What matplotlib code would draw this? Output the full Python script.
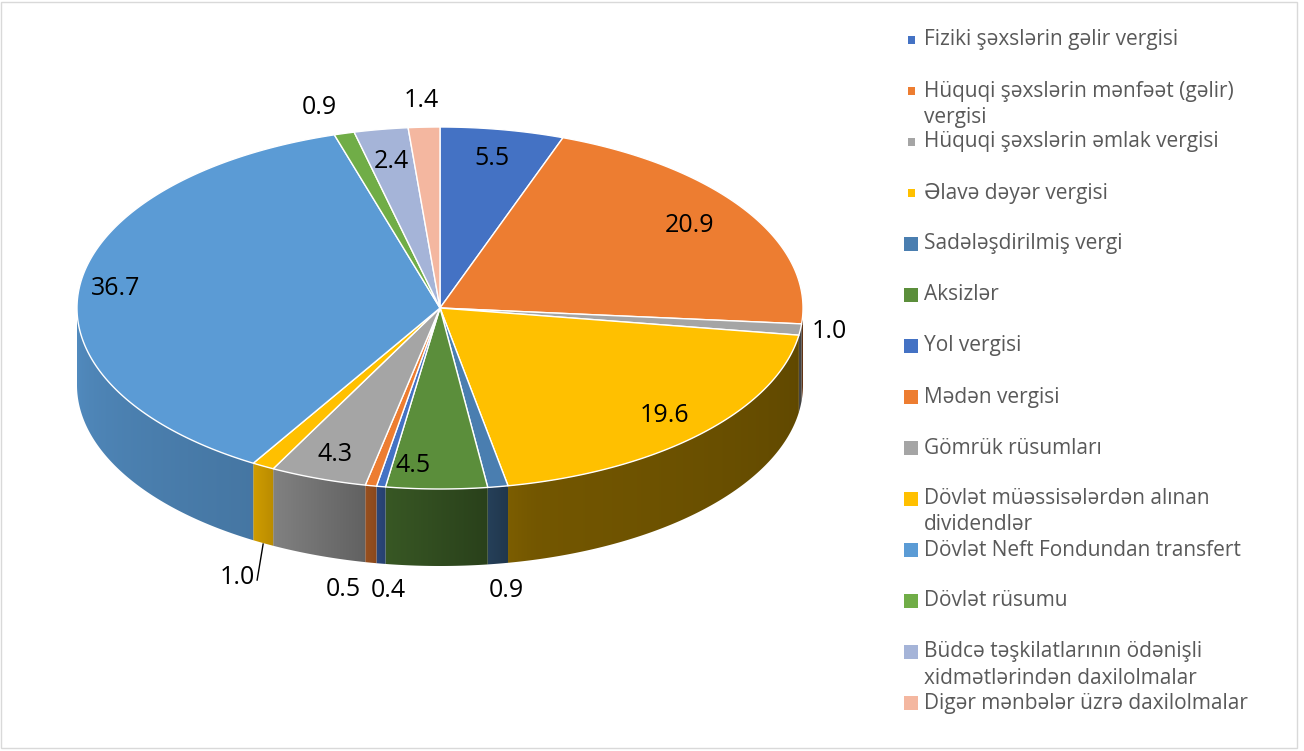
import numpy as np
import matplotlib.pyplot as plt
from matplotlib.patches import Polygon, Rectangle
from matplotlib.colors import to_rgb

plt.rcParams['font.family'] = ['Open Sans', 'DejaVu Sans']

# shares of budget revenue, %
categories = [
    "Fiziki şəxslərin gəlir vergisi",
    "Hüquqi şəxslərin mənfəət (gəlir)\nvergisi",
    "Hüquqi şəxslərin əmlak vergisi",
    "Əlavə dəyər vergisi",
    "Sadələşdirilmiş vergi",
    "Aksizlər",
    "Yol vergisi",
    "Mədən vergisi",
    "Gömrük rüsumları",
    "Dövlət müəssisələrdən alınan\ndividendlər",
    "Dövlət Neft Fondundan transfert",
    "Dövlət rüsumu",
    "Büdcə təşkilatlarının ödənişli\nxidmətlərindən daxilolmalar",
    "Digər mənbələr üzrə daxilolmalar",
]
values = [5.5, 20.9, 1.0, 19.6, 0.9, 4.5, 0.4, 0.5, 4.3, 1.0, 36.7, 0.9, 2.4, 1.4]
colors = ['#4472C4', '#ED7D31', '#A5A5A5', '#FFC000', '#4A7EB0', '#5B8E3B', '#4472C4',
          '#ED7D31', '#A5A5A5', '#FFC000', '#5B9BD5', '#70AD47', '#A5B4D8', '#F4B7A0']

# label placement: radius factor on ellipse, drop to bottom rim, pixel nudges
lab_r = [0.84, 0.85, 1.08, 0.86, 1.15, 0.87, 1.15, 1.15, 0.86, 1.0, 0.9, 1.15, 0.82, 1.15]
lab_drop = [0, 0, 0, 0, 1, 0, 1, 1, 0, 1, 0, 0, 0, 0]
lab_dx = [0, -10, 0, 0, 0, -24, 16, -17, 0, 0, 0, -10, 0, 0]
leader = 9  # label drawn with a leader line

W, H = 1304, 751
cx, cy, rx, ry, depth = 440, 308, 363, 181, 77


def pt(theta, r=1.0, dz=0.0):
    t = np.radians(theta)
    return cx + rx * r * np.sin(t), cy - ry * r * np.cos(t) + dz


def shade(theta):
    return np.interp(theta, [90, 165, 190, 211, 270], [0.40, 0.43, 0.60, 0.79, 0.87])


fig = plt.figure(figsize=(W / 100, H / 100), dpi=100)
ax = fig.add_axes([0, 0, 1, 1])

bounds = np.concatenate([[0], np.cumsum(values)]) / sum(values) * 360

# side walls (front half only), horizontal gradient clipped to the wall shape
for i in range(len(values)):
    a, b = max(bounds[i], 90), min(bounds[i + 1], 270)
    if a >= b:
        continue
    base = np.array(to_rgb(colors[i]))
    ts = np.linspace(a, b, max(3, int((b - a) / 0.5)))
    top = [pt(t) for t in ts]
    bot = [pt(t, dz=depth) for t in ts[::-1]]
    wall = Polygon(top + bot, closed=True, facecolor='none', edgecolor='none')
    ax.add_patch(wall)
    xs = np.array([p[0] for p in top])
    x0, x1 = xs.min() - 1, xs.max() + 1
    ys = [p[1] for p in top + bot]
    cols = np.linspace(x0, x1, 60)
    th = 180 - np.degrees(np.arcsin(np.clip((cols - cx) / rx, -1, 1)))
    u = (th - a) / (b - a)
    f = shade(th) + 0.05 * (u - 0.5)
    img = np.clip(base[None, None, :] * f[None, :, None], 0, 1)
    im = ax.imshow(img, extent=[x0, x1, max(ys) + 1, min(ys) - 1], aspect='auto',
                   interpolation='bilinear', zorder=1)
    im.set_clip_path(wall)

# top faces
for i in range(len(values)):
    ts = np.linspace(bounds[i], bounds[i + 1], max(3, int((bounds[i + 1] - bounds[i]) / 0.5)))
    poly = [(cx, cy)] + [pt(t) for t in ts]
    ax.add_patch(Polygon(poly, closed=True, facecolor=colors[i], edgecolor='white', lw=1.0, zorder=2))

# data labels
for i, v in enumerate(values):
    mid = (bounds[i] + bounds[i + 1]) / 2
    if i == leader:
        x0, y0 = pt(mid, 1.0, depth)
        ax.plot([x0, x0 - 6], [y0 + 1, y0 + 37], color='black', lw=1, zorder=3)
        ax.text(x0 - 8, y0 + 34, f"{v:.1f}", ha='right', va='center', fontsize=18, color='black', zorder=4)
        continue
    x, y = pt(mid, lab_r[i], depth * lab_drop[i])
    ax.text(x + lab_dx[i], y, f"{v:.1f}", ha='center', va='center',
            fontsize=18, color='black', zorder=4)

# legend
ly0, lstep, lgap = 40, 51.0, 26
for i, name in enumerate(categories):
    y = ly0 + i * lstep
    if i < 4:
        ax.add_patch(Rectangle((907.5, y - 3.8), 7.5, 7.5, facecolor=colors[i], edgecolor='none'))
    else:
        ax.add_patch(Rectangle((904, y - 7), 14, 14, facecolor=colors[i], edgecolor='none'))
    for k, line in enumerate(name.split('\n')):
        ax.text(924, y + k * lgap, line, ha='left', va='center', fontsize=15, color='#595959')

ax.set_xlim(0, W)
ax.set_ylim(H, 0)
ax.axis('off')

fig.patches.append(Rectangle((1 / W, 3 / H), 1296 / W, 746 / H, transform=fig.transFigure,
                             fill=False, edgecolor='#D9D9D9', lw=1))

fig.savefig('out.png', dpi=100)
